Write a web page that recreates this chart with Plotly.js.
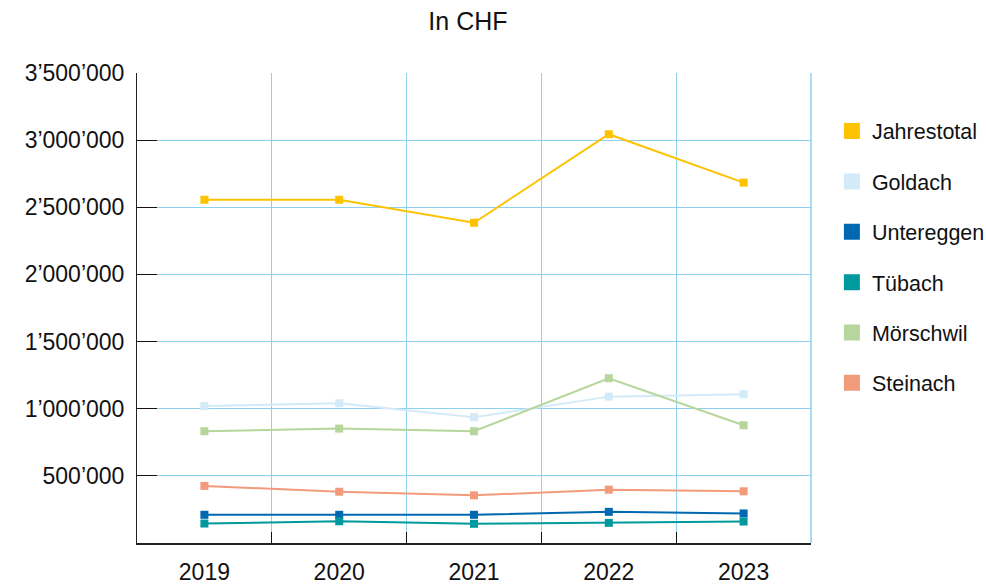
<!DOCTYPE html>
<html>
<head>
<meta charset="utf-8">
<script src="https://cdn.plot.ly/plotly-3.0.1.min.js"></script>
<style>html,body{margin:0;padding:0;background:#fff;}#chart{width:986px;height:585px;}</style>
</head>
<body>
<div id="chart"></div>
<script>
const years = ['2019', '2020', '2021', '2022', '2023'];
const seriesNames = ['Jahrestotal', 'Goldach', 'Untereggen', 'Tübach', 'Mörschwil', 'Steinach'];
const jahrestotal = [2556000, 2556000, 2385000, 3044000, 2684000];
const goldach = [1020000, 1041000, 937000, 1090000, 1108000];
const untereggen = [210000, 210000, 210000, 232000, 220000];
const tuebach = [145000, 162000, 143000, 150000, 160000];
const moerschwil = [832000, 852000, 832000, 1227000, 877000];
const steinach = [425000, 382000, 355000, 397000, 385000];
const colors = ['#FDC300', '#D3EAF8', '#0068B0', '#00999D', '#B7D69B', '#F29A7C'];
const yTickVals = [500000, 1000000, 1500000, 2000000, 2500000, 3000000, 3500000];
const yTickText = ['500’000', '1’000’000', '1’500’000', '2’000’000', '2’500’000', '3’000’000', '3’500’000'];

const values = [jahrestotal, goldach, untereggen, tuebach, moerschwil, steinach];
const FONT = 'Liberation Sans, Arial, sans-serif';

const traces = [];
values.forEach((v, i) => {
  traces.push({
    x: years, y: v, type: 'scatter', mode: 'lines+markers',
    name: seriesNames[i], legendgroup: seriesNames[i], showlegend: false,
    line: {color: colors[i], width: 2},
    marker: {color: colors[i], symbol: 'square', size: 8},
    hoverinfo: 'x+y+name'
  });
});
values.forEach((v, i) => {
  traces.push({
    x: [null], y: [null], type: 'scatter', mode: 'markers',
    name: seriesNames[i], legendgroup: seriesNames[i], showlegend: true,
    marker: {color: colors[i], symbol: 'square', size: 19}
  });
});

const layout = {
  width: 986, height: 585,
  paper_bgcolor: '#fff', plot_bgcolor: '#fff',
  margin: {l: 137, r: 175, t: 73, b: 42, autoexpand: false},
  font: {family: FONT, color: '#111', size: 23},
  title: {text: 'In CHF', x: 0.4746, xanchor: 'center', y: 0.963, yanchor: 'middle', font: {family: FONT, size: 25, color: '#111'}},
  showlegend: true,
  legend: {
    x: 1.031, xanchor: 'left', y: 0.92, yanchor: 'top',
    font: {family: FONT, size: 21.5, color: '#111'},
    tracegroupgap: 19.4, traceorder: 'grouped', itemsizing: 'trace',
    bgcolor: 'rgba(0,0,0,0)'
  },
  shapes: [
    {type: 'line', xref: 'paper', yref: 'paper', x0: 1, x1: 1, y0: 0, y1: 1,
     line: {color: '#A9DDF2', width: 2}, layer: 'below'}
  ],
  xaxis: {
    type: 'category', range: [-0.5, 4.5], fixedrange: true,
    tickson: 'boundaries', ticks: 'inside', ticklen: 11, tickcolor: '#111', tickwidth: 1,
    showgrid: true, gridcolor: '#8ED1EE', gridwidth: 1,
    showline: true, linecolor: '#222', linewidth: 1.5,
    tickfont: {family: FONT, size: 23, color: '#111'},
    ticklabelstandoff: 8, zeroline: false
  },
  yaxis: {
    range: [0, 3500000], fixedrange: true,
    tickmode: 'array', tickvals: yTickVals, ticktext: yTickText,
    ticks: 'inside', ticklen: 20, tickcolor: '#111', tickwidth: 1,
    showgrid: true, gridcolor: '#8ED1EE', gridwidth: 1,
    showline: true, linecolor: '#222', linewidth: 1,
    tickfont: {family: FONT, size: 23, color: '#111'},
    ticklabelstandoff: 7, zeroline: false
  }
};

Plotly.newPlot('chart', traces, layout, {displayModeBar: false, staticPlot: true});
</script>
</body>
</html>
